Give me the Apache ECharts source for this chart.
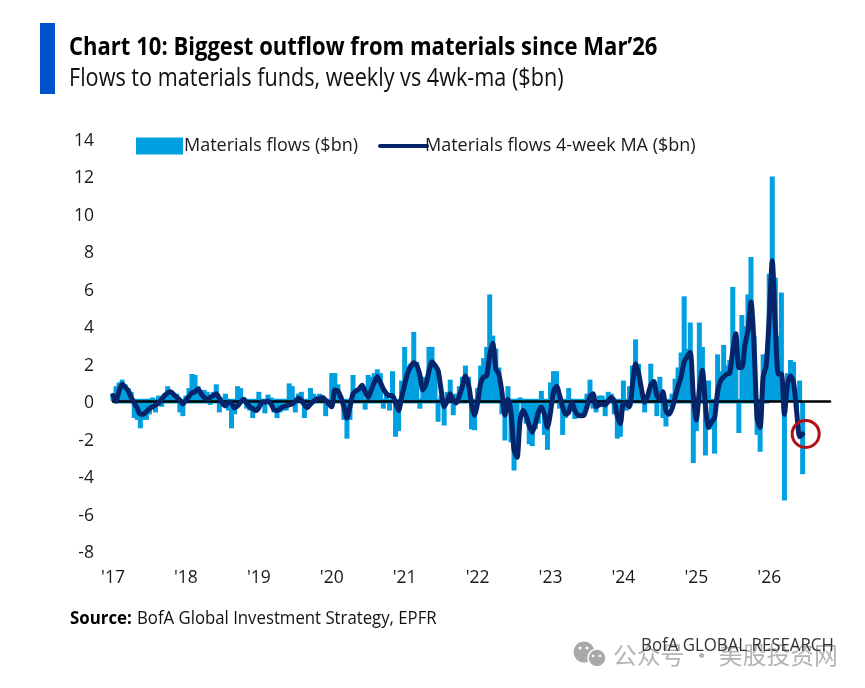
<!DOCTYPE html>
<html>
<head>
<meta charset="utf-8">
<style>html,body{margin:0;padding:0;background:#fff}#c{width:865px;height:688px}</style>
<script src="https://cdn.jsdelivr.net/npm/echarts@6/dist/echarts.min.js"></script>
</head>
<body>
<div id="c"></div>
<script>
// One row per year, 24 half-month steps each ($bn)
const flows = [
 .4,.8,1,1.15,.9,.7,.5,-.9,-1,-1.45,-1,-1,-.7,.2,-.6,.3,-.3,.4,.8,.5,.3,.4,-.6,-.8,
 .3,.7,1.45,1.4,.8,.6,.6,.5,-.2,.5,.9,-.6,.2,.4,-.5,-1.45,-.7,.8,.7,.2,-.4,-.5,-.9,-.6,
 .5,-.3,-.65,.35,.2,-.6,-.9,-.6,-.5,-.5,.95,.8,-.6,.4,.5,-.9,-.3,.7,.4,.3,.4,.3,-.8,-.2,
 1.5,1.5,.9,.3,-1,-2,-1,1.4,.5,.6,.6,-.45,1.4,1.3,1.5,1.7,1.5,-.4,.5,-.5,1.6,-1.9,-1.6,1.1,
 2.9,1.9,2,3.7,2.1,-.4,1.3,.9,2.9,2.9,2,-1.1,.3,-1.3,.5,1.15,-.75,.4,.8,1.3,1.9,1.3,-1.5,-1.55,
 .7,1.9,2.3,2.9,5.7,3.5,2.8,1.8,-.7,-2.1,.8,-2.2,-3.7,-3,.2,-.6,-1.2,-2.3,-2.4,-1.5,-1.2,.55,-1.8,-2.6,
 1,1.6,1.6,-.4,-1.8,-.9,.7,-.5,-.95,-.9,-.9,-.5,.4,1.15,-.4,-.6,.3,.3,-.8,.5,.4,-.7,-2,-1.9,
 1.1,-.5,.8,1.9,3.3,2,.6,-.6,.3,2,1.1,-.8,1.3,-.9,-1.35,-.3,.4,1.2,1.8,2.6,5.6,2.8,4.2,-3.3,
 -1.6,4.2,2.9,-2.9,1.1,-1.5,-2.8,2.5,1.6,3,1.9,2.2,6.1,3.2,-1.7,4.6,4,5.7,7.7,3.5,-1.8,-2.7,2.5,1.9,
 6.8,12,6.6,3.5,5.8,-5.3,1.5,2.2,2.1,-.4,1.1,-3.9
];
const ma4w = [
 .3,0,.55,.9,.75,.55,.2,-.1,-.4,-.7,-.7,-.55,-.4,-.3,-.2,-.1,.1,.3,.45,.5,.35,.2,.05,-.15,
 .05,.25,.45,.5,.65,.4,.2,.1,.2,.3,.4,.15,-.1,-.25,-.05,-.1,-.35,-.25,-.05,.1,-.1,-.3,-.4,-.5,
 -.35,-.05,-.05,0,-.15,-.45,-.5,-.4,-.3,-.25,-.2,-.15,0,.15,.05,-.2,-.35,-.15,0,.1,.15,.2,.05,-.15,
 -.3,.6,.55,.2,-.3,-.9,-.3,.4,.55,.65,.85,.5,.2,.6,1,1.3,1,.65,.4,.3,.3,-.1,-.5,.2,
 .9,1.5,1.85,2.05,1.9,1.4,.6,.9,1.6,2.1,1.9,1.65,.6,-.3,0,.4,.05,-.1,.3,.8,1.35,.9,-.1,-.75,
 -.1,.95,1.3,1.35,2.5,3.1,1.75,1.45,.5,-.75,.1,-.6,-2.6,-3,-1,-.5,-.8,-1.3,-1.65,-1.2,-.6,-.3,-.7,-1.4,
 -.6,.5,.8,.3,-.3,-.7,-.6,-.05,-.5,-.75,-.78,-.75,-.3,.25,.4,-.3,-.2,-.15,-.2,0,.2,0,-.8,-1.2,
 -.1,-.15,-.3,.9,2,1.5,.6,-.05,.3,.85,1.05,.3,.1,.5,-.5,-.7,-.4,.2,.8,1.3,2.1,2.4,2.6,.3,
 -1,.6,1.65,-.2,-1.4,-1.1,-.9,.5,1.1,1.3,1.45,1.5,2.7,3.6,1.8,1.8,3,3.8,5.3,3,-.9,-1.4,1.3,1.9,
 4.5,7.5,4,1.45,1.45,-.7,.9,1.35,1,-.5,-1.9,-1.75
];
const yearLabels = ["'17","'18","'19","'20","'21","'22","'23","'24","'25","'26"];
const stepsPerYear = 24;
const totalSteps = 237;
const yTicks = {min:-8, max:14, interval:2};
const calloutValue = -1.75;
const calloutStep = 228;
const zeroBand = 0.13;

const categories = [];
for (let i = 0; i < totalSteps; i++) {
  categories.push(i % stepsPerYear === 0 ? (yearLabels[i / stepsPerYear] || '') : String(i));
}
const sans = '"Open Sans","Noto Sans",sans-serif';
const chart = echarts.init(document.getElementById('c'), null, {renderer:'canvas'});
const gray = '#a9a9a9';
const barBlue = '#009FE0', navy = '#06246A';
chart.setOption({
  animation:false,
  backgroundColor:'#fff',
  grid:{left:113,right:35,top:139,bottom:137,containLabel:false},
  legend:{
    left:131,top:132,itemGap:20,itemWidth:47,itemHeight:17,
    textStyle:{fontFamily:sans,fontSize:18,color:'#1a1a1a',padding:[4,0,0,-4]},
    data:[
      {name:'Materials flows ($bn)',icon:'rect',itemStyle:{color:barBlue,borderWidth:0}},
      {name:'Materials flows 4-week MA ($bn)',
       itemStyle:{color:'rgba(0,0,0,0)',borderWidth:0,opacity:0},
       lineStyle:{color:navy,width:4,cap:'round'},
       textStyle:{padding:[4,0,0,-7]}}
    ]
  },
  xAxis:[
    {type:'category',data:categories,boundaryGap:false,position:'bottom',
     axisLine:{show:false,onZero:false},axisTick:{show:false},splitLine:{show:false},
     axisLabel:{interval:stepsPerYear-1,margin:18,fontFamily:sans,fontSize:17.5,color:'#1a1a1a',
       formatter:v=>v.startsWith("'")?v:''}},
    {type:'category',data:categories,boundaryGap:false,z:2,
     axisLine:{show:true,onZero:true,lineStyle:{color:'#000',width:2.5}},
     axisTick:{show:false},axisLabel:{show:false},splitLine:{show:false}}
  ],
  yAxis:{type:'value',min:yTicks.min,max:yTicks.max,interval:yTicks.interval,
    axisLine:{show:false},axisTick:{show:false},splitLine:{show:false},
    axisLabel:{margin:19,color:'#1a1a1a',
      formatter:v=>'{t|'+v+'}',
      rich:{t:{fontFamily:sans,fontSize:17.5,color:'#1a1a1a',padding:[4,0,0,0]}}}},
  series:[
    {name:'Materials flows ($bn)',type:'bar',z:1,barWidth:5,xAxisIndex:0,data:flows,
     itemStyle:{color:barBlue},silent:true,
     markArea:{silent:true,itemStyle:{color:barBlue},label:{show:false},
       data:[[{xAxis:0,yAxis:-zeroBand},{xAxis:flows.length-1,yAxis:zeroBand}]]}},
    {name:'Materials flows 4-week MA ($bn)',type:'line',z:3,xAxisIndex:0,data:ma4w,
     showSymbol:false,symbol:'none',smooth:0.25,
     lineStyle:{color:navy,width:5,join:'round',cap:'round'},
     itemStyle:{color:navy},
     markPoint:{silent:true,symbol:'circle',symbolSize:27,label:{show:false},
       itemStyle:{color:'rgba(0,0,0,0)',borderColor:'#B50E16',borderWidth:3},
       data:[{coord:[calloutStep,calloutValue]}]}}
  ],
  graphic:[
    {type:'rect',shape:{x:40,y:23,width:15,height:71},style:{fill:'#0052CC'},silent:true},
    {type:'text',x:69,y:48,scaleX:.882,style:{text:"Chart 10: Biggest outflow from materials since Mar’26",
      font:'bold 25px "Open Sans"',fill:'#000',verticalAlign:'middle'}},
    {type:'text',x:69,y:79,scaleX:.865,style:{text:'Flows to materials funds, weekly vs 4wk-ma ($bn)',
      font:'25px "Open Sans"',fill:'#111',verticalAlign:'middle'}},
    {type:'text',x:70,y:619,scaleX:.91,style:{text:'Source:',
      font:'bold 18.5px "Open Sans"',fill:'#000',verticalAlign:'middle'}},
    {type:'text',x:137,y:619,scaleX:.906,style:{text:'BofA Global Investment Strategy, EPFR',
      font:'18.5px "Open Sans"',fill:'#111',verticalAlign:'middle'}},
    // watermark
    {type:'circle',shape:{cx:584,cy:652,r:10.5},style:{fill:gray},silent:true},
    {type:'circle',shape:{cx:597,cy:658,r:9},style:{fill:gray,stroke:'#fff',lineWidth:1.5},silent:true},
    {type:'circle',shape:{cx:580,cy:648,r:1.5},style:{fill:'#fff'},silent:true},
    {type:'circle',shape:{cx:587,cy:648,r:1.5},style:{fill:'#fff'},silent:true},
    {type:'circle',shape:{cx:593,cy:656,r:1.3},style:{fill:'#fff'},silent:true},
    {type:'circle',shape:{cx:600,cy:656,r:1.3},style:{fill:'#fff'},silent:true},
    {type:'text',x:613,y:655,style:{text:'公众号 · 美股投资网',
      font:'23.8px "Noto Sans CJK SC"',fill:'#b4b4b4',verticalAlign:'middle'}},
    {type:'text',x:641,y:646,scaleX:.91,style:{text:'BofA GLOBAL RESEARCH',
      font:'18.5px "Open Sans"',fill:'#333',verticalAlign:'middle'}}
  ]
});
</script>
</body>
</html>
